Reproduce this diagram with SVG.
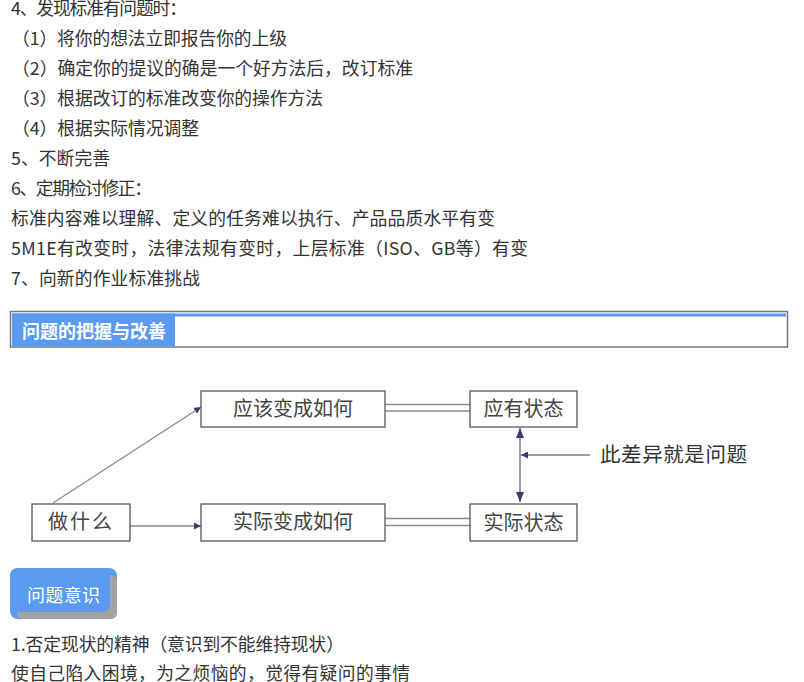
<svg xmlns="http://www.w3.org/2000/svg" width="804" height="682" viewBox="0 0 804 682">
<style>
.t{font-family:"Noto Sans CJK SC","Microsoft YaHei",sans-serif;font-size:17.8px;fill:#333}
.b{fill:#fff;stroke:#555;stroke-width:1.3}
.bl{font-family:"Noto Sans CJK SC",sans-serif;font-size:20px;fill:#444;text-anchor:middle}
.ln{stroke:#8a8a8a;stroke-width:1.3;fill:none}
.ar{stroke:#7a7a9a;stroke-width:1.5;fill:none}
</style>
<defs>
<marker id="ah" viewBox="0 0 10 10" refX="10" refY="5" markerWidth="7" markerHeight="7" orient="auto-start-reverse" markerUnits="userSpaceOnUse">
<path d="M0,0 L10,5 L0,10 z" fill="#3b3b6e"/>
</marker>
<marker id="ahl" viewBox="0 0 10 10" refX="10" refY="5" markerWidth="10" markerHeight="10" orient="auto-start-reverse" markerUnits="userSpaceOnUse">
<path d="M0,1 L10,5 L0,9 z" fill="#3b3b6e"/>
</marker>
</defs>
<rect width="804" height="682" fill="#fff"/>
<g id="text-top">
<text class="t" x="11" y="15" textLength="176" lengthAdjust="spacing">4、发现标准有问题时：</text>
<text class="t" x="12" y="45" textLength="275" lengthAdjust="spacing">（1）将你的想法立即报告你的上级</text>
<text class="t" x="12" y="75" textLength="401" lengthAdjust="spacing">（2）确定你的提议的确是一个好方法后，改订标准</text>
<text class="t" x="12" y="105" textLength="311" lengthAdjust="spacing">（3）根据改订的标准改变你的操作方法</text>
<text class="t" x="12" y="135" textLength="187" lengthAdjust="spacing">（4）根据实际情况调整</text>
<text class="t" x="11" y="165" textLength="99" lengthAdjust="spacing">5、不断完善</text>
<text class="t" x="11" y="195" textLength="141" lengthAdjust="spacing">6、定期检讨修正：</text>
<text class="t" x="11" y="225" textLength="484" lengthAdjust="spacing">标准内容难以理解、定义的任务难以执行、产品品质水平有变</text>
<text class="t" x="11" y="255" textLength="517" lengthAdjust="spacing">5M1E有改变时，法律法规有变时，上层标准（ISO、GB等）有变</text>
<text class="t" x="11" y="285" textLength="189" lengthAdjust="spacing">7、向新的作业标准挑战</text>
</g>
<g id="header">
<rect x="10.5" y="311.5" width="777" height="35.5" fill="#fff" stroke="#777" stroke-width="1.5"/>
<rect x="12" y="313.5" width="774" height="3" fill="#5b9bef"/>
<rect x="12" y="313.5" width="163" height="33" fill="#5b9bef"/>
<text x="22" y="338" font-family="Noto Sans CJK SC, sans-serif" font-size="18" font-weight="bold" fill="#fff">问题的把握与改善</text>
</g>
<g id="connectors">
<line class="ln" x1="53" y1="503" x2="201" y2="407" marker-end="url(#ah)"/>
<line class="ln" x1="130" y1="526" x2="201" y2="526" marker-end="url(#ah)"/>
<line class="ln" x1="385" y1="404.5" x2="470" y2="404.5"/>
<line class="ln" x1="385" y1="411" x2="470" y2="411"/>
<line class="ln" x1="385" y1="518.5" x2="470" y2="518.5"/>
<line class="ln" x1="385" y1="525.5" x2="470" y2="525.5"/>
<line class="ar" x1="520" y1="428" x2="520" y2="502" marker-start="url(#ahl)" marker-end="url(#ahl)"/>
<line class="ar" x1="590" y1="455" x2="521" y2="455" marker-end="url(#ah)"/>
</g>
<g id="node-zuo">
<rect class="b" x="32" y="504" width="98" height="37"/>
<text class="bl" x="81" y="529" letter-spacing="2">做什么</text>
</g>
<g id="node-yinggai">
<rect class="b" x="201" y="391" width="184" height="36"/>
<text class="bl" x="293" y="416">应该变成如何</text>
</g>
<g id="node-shiji">
<rect class="b" x="201" y="504" width="184" height="37"/>
<text class="bl" x="293" y="529">实际变成如何</text>
</g>
<g id="node-yingyou">
<rect class="b" x="470" y="391" width="107" height="36"/>
<text class="bl" x="523.5" y="416">应有状态</text>
</g>
<g id="node-shijizt">
<rect class="b" x="470" y="504" width="107" height="37"/>
<text class="bl" x="523.5" y="530">实际状态</text>
</g>
<text x="600" y="462" font-family="Noto Sans CJK SC, sans-serif" font-size="20.5" fill="#333" textLength="147" lengthAdjust="spacing">此差异就是问题</text>
<g id="button">
<rect x="10" y="568" width="107" height="51" rx="8" fill="#5b9bef"/>
<rect x="17" y="575" width="100" height="44" rx="6" fill="#a3a3a3"/>
<rect x="10" y="568" width="100" height="44" rx="8" fill="#5b9bef"/>
<text x="27" y="602" font-family="Noto Sans CJK SC, sans-serif" font-size="18" fill="#fff" textLength="73" lengthAdjust="spacing">问题意识</text>
</g>
<g id="text-bottom">
<text class="t" x="11" y="651" textLength="333" lengthAdjust="spacing">1.否定现状的精神（意识到不能维持现状）</text>
<text class="t" x="11" y="680" textLength="399" lengthAdjust="spacing">使自己陷入困境，为之烦恼的，觉得有疑问的事情</text>
</g>
</svg>
